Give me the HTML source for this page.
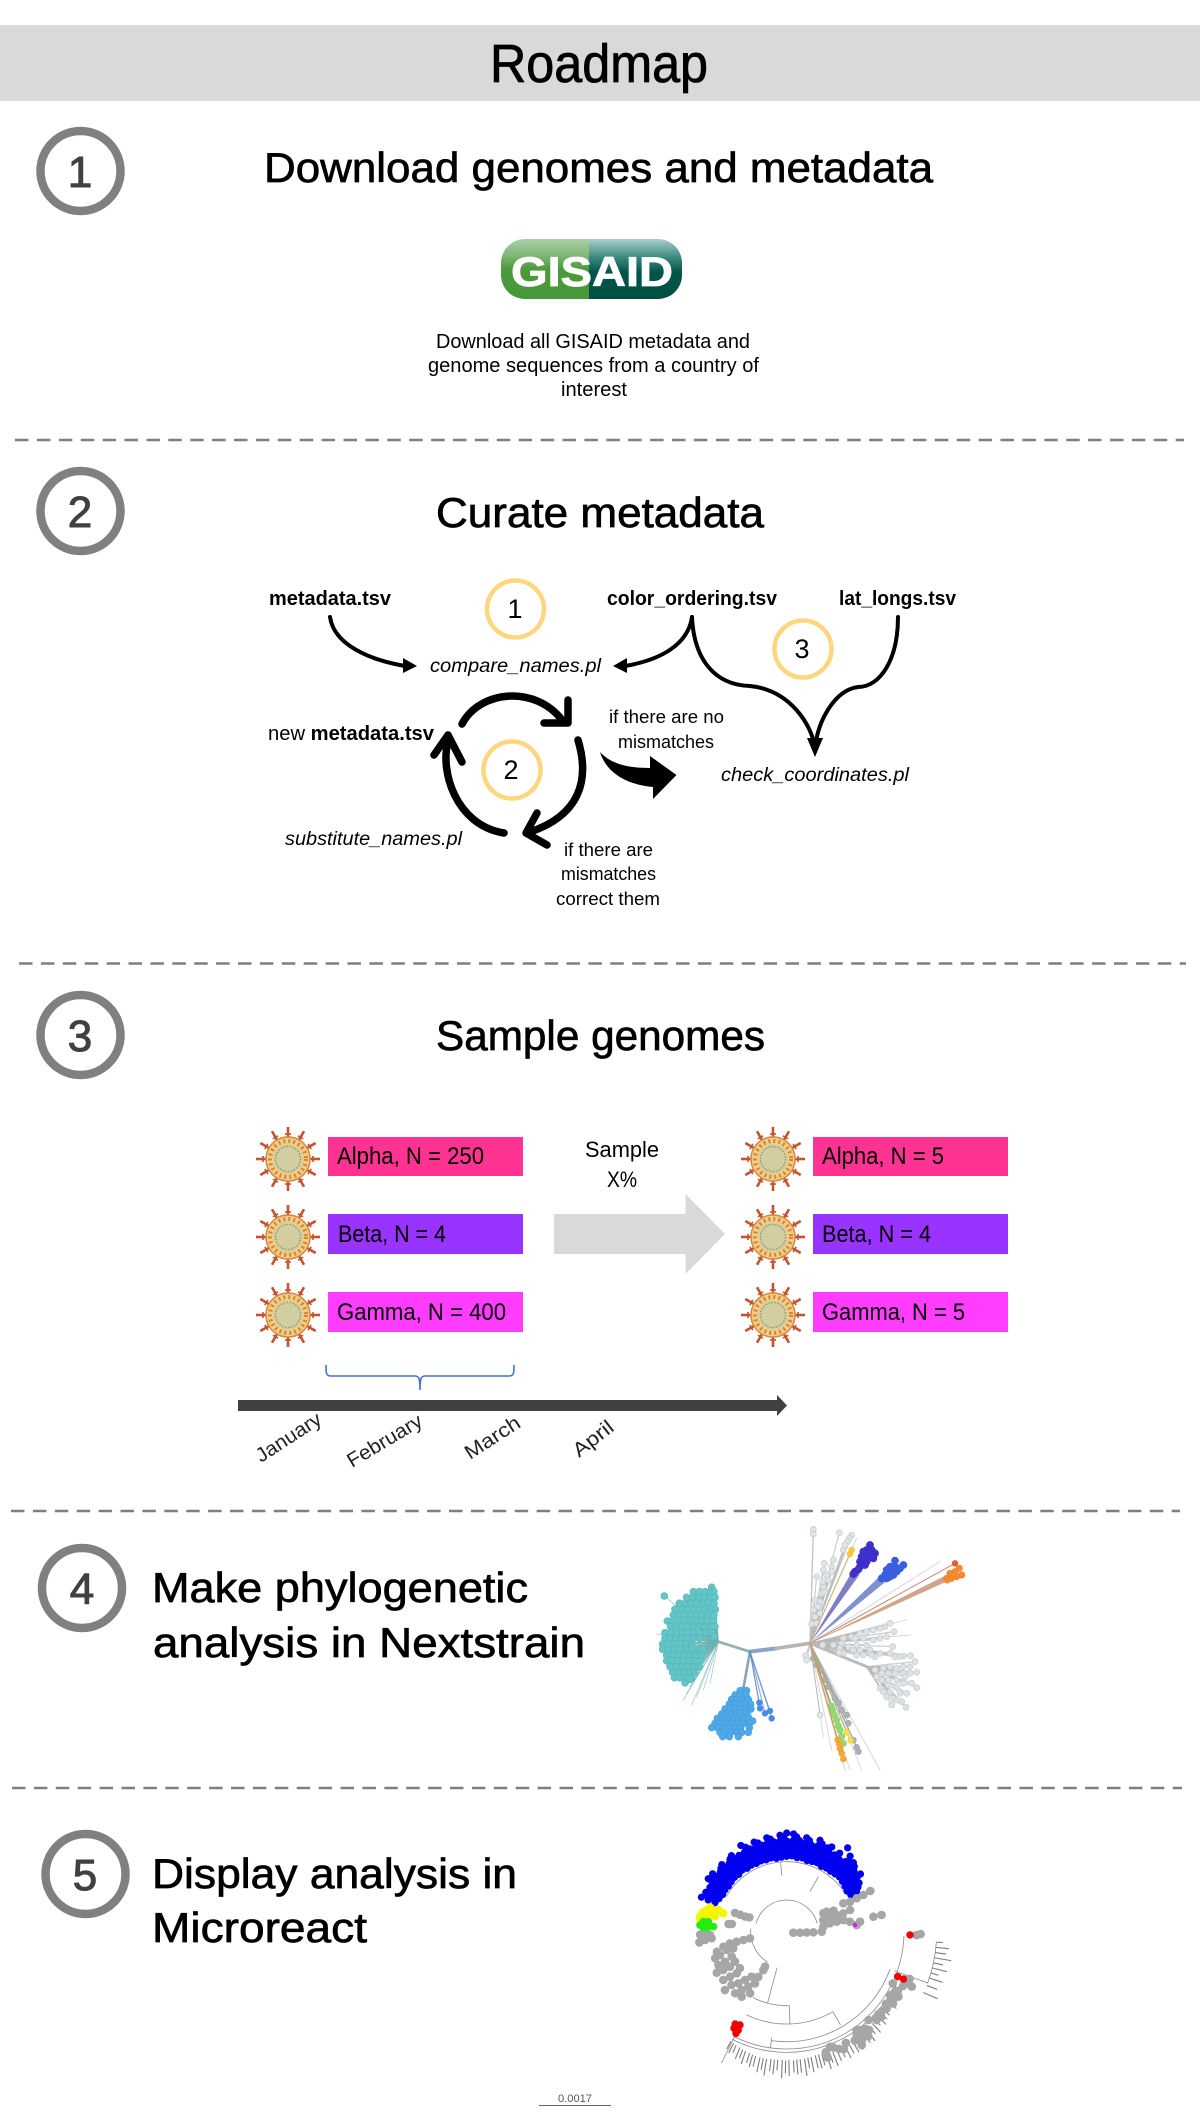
<!DOCTYPE html>
<html lang="en">
<head>
<meta charset="utf-8">
<title>Roadmap</title>
<style>
html,body{margin:0;padding:0;background:#fff;}
svg{display:block;}
text{font-family:"Liberation Sans",sans-serif;}
.h{font-size:42px;fill:#000;stroke:#000;stroke-width:.7px;}
.dash{stroke:#7f7f7f;stroke-width:2.6;stroke-dasharray:13.5 8.4;fill:none;}
.ring{fill:#fff;stroke:#808080;stroke-width:8.5;}
.dig{font-size:44px;fill:#404040;stroke:#404040;stroke-width:1;text-anchor:middle;}
.gold{fill:#fff;stroke:#ffd680;stroke-width:4.5;}
.gn{font-size:27px;fill:#000;text-anchor:middle;}
.b{font-size:20px;font-weight:bold;fill:#000;}
.i{font-size:19px;font-style:italic;fill:#000;}
.t{font-size:18px;fill:#000;}
.bx{font-size:24px;fill:#000;}
.mo{font-size:20px;fill:#222;}
.arr{fill:none;stroke:#000;stroke-width:4;stroke-linecap:round;}
.cyc{fill:none;stroke:#000;stroke-width:7.5;stroke-linecap:round;stroke-linejoin:round;}
</style>
</head>
<body>
<svg xmlns="http://www.w3.org/2000/svg" width="1200" height="2128" viewBox="0 0 1200 2128">
<defs>
<linearGradient id="gl" x1="0" y1="0" x2="0" y2="1"><stop offset="0" stop-color="#a9cfa6"/><stop offset=".28" stop-color="#7fb676"/><stop offset=".5" stop-color="#4b9b3c"/><stop offset="1" stop-color="#469838"/></linearGradient>
<linearGradient id="gr" x1="0" y1="0" x2="0" y2="1"><stop offset="0" stop-color="#a8cfcf"/><stop offset=".3" stop-color="#3f8a80"/><stop offset=".55" stop-color="#04544a"/><stop offset="1" stop-color="#004f45"/></linearGradient>
<clipPath id="logoclip"><rect x="501" y="239" width="181" height="60" rx="24"/></clipPath>
<g id="spike"><line x1="0" y1="-19" x2="0" y2="-32" stroke="#c4532f" stroke-width="2.6"/><line x1="-3" y1="-25" x2="3" y2="-25" stroke="#c4532f" stroke-width="1.6"/></g>
<g id="virus">
<use href="#spike"/><use href="#spike" transform="rotate(30)"/><use href="#spike" transform="rotate(60)"/><use href="#spike" transform="rotate(90)"/><use href="#spike" transform="rotate(120)"/><use href="#spike" transform="rotate(150)"/><use href="#spike" transform="rotate(180)"/><use href="#spike" transform="rotate(210)"/><use href="#spike" transform="rotate(240)"/><use href="#spike" transform="rotate(270)"/><use href="#spike" transform="rotate(300)"/><use href="#spike" transform="rotate(330)"/>
<circle r="22" fill="#f2cd84" stroke="#d08a4a" stroke-width="1.5"/>
<circle r="18" fill="none" stroke="#d8823a" stroke-width="4" stroke-dasharray="2 3"/>
<circle r="15" fill="#d2cea0"/>
<circle r="12.5" fill="none" stroke="#8b8f72" stroke-width="1.2" stroke-dasharray="1.5 1.5"/>
</g>
</defs>

<rect width="1200" height="2128" fill="#fff"/>

<g>
<rect x="0" y="25" width="1200" height="76" fill="#d9d9d9"/>
<text x="490" y="82" font-size="54" textLength="218" lengthAdjust="spacingAndGlyphs" fill="#000" stroke="#000" stroke-width=".8">Roadmap</text>
</g>

<g>
<circle class="ring" cx="80.5" cy="171" r="40"/>
<text class="dig" x="80" y="187">1</text>
<text class="h" x="264" y="182" textLength="669" lengthAdjust="spacingAndGlyphs">Download genomes and metadata</text>
<g clip-path="url(#logoclip)">
<rect x="501" y="239" width="88" height="60" fill="url(#gl)"/>
<rect x="589" y="239" width="93" height="60" fill="url(#gr)"/>
</g>
<text x="511" y="286" font-size="42" font-weight="bold" fill="#fff" stroke="#fff" stroke-width=".8" textLength="162" lengthAdjust="spacingAndGlyphs">GISAID</text>
<text class="t" x="436" y="348" style="font-size:20px" textLength="314" lengthAdjust="spacingAndGlyphs">Download all GISAID metadata and</text>
<text class="t" x="428" y="372" style="font-size:20px" textLength="331" lengthAdjust="spacingAndGlyphs">genome sequences from a country of</text>
<text class="t" x="561" y="396" style="font-size:20px" textLength="66" lengthAdjust="spacingAndGlyphs">interest</text>
</g>
<line class="dash" x1="15" y1="440" x2="1184" y2="440"/>

<g>
<circle class="ring" cx="80.5" cy="511" r="40"/>
<text class="dig" x="80" y="527">2</text>
<text class="h" x="436" y="527" textLength="328" lengthAdjust="spacingAndGlyphs">Curate metadata</text>

<text class="b" x="269" y="605" textLength="122" lengthAdjust="spacingAndGlyphs">metadata.tsv</text>
<text class="b" x="607" y="605" textLength="170" lengthAdjust="spacingAndGlyphs">color_ordering.tsv</text>
<text class="b" x="839" y="605" textLength="117" lengthAdjust="spacingAndGlyphs">lat_longs.tsv</text>
<circle class="gold" cx="515.5" cy="609" r="28.5"/>
<text class="gn" x="515" y="618">1</text>
<circle class="gold" cx="803" cy="649" r="28.5"/>
<text class="gn" x="802" y="658">3</text>
<circle class="gold" cx="512" cy="770" r="28.5"/>
<text class="gn" x="511" y="779">2</text>

<text class="i" x="430" y="672" textLength="171" lengthAdjust="spacingAndGlyphs">compare_names.pl</text>
<text class="i" x="721" y="781" textLength="188" lengthAdjust="spacingAndGlyphs">check_coordinates.pl</text>
<text class="i" x="285" y="845" textLength="177" lengthAdjust="spacingAndGlyphs">substitute_names.pl</text>
<text x="268" y="740" font-size="20" fill="#000" textLength="166" lengthAdjust="spacingAndGlyphs">new <tspan font-weight="bold">metadata.tsv</tspan></text>
<text class="t" x="609" y="723" textLength="115" lengthAdjust="spacingAndGlyphs">if there are no</text>
<text class="t" x="618" y="748" textLength="96" lengthAdjust="spacingAndGlyphs">mismatches</text>
<text class="t" x="564" y="856" textLength="89" lengthAdjust="spacingAndGlyphs">if there are</text>
<text class="t" x="561" y="880" textLength="95" lengthAdjust="spacingAndGlyphs">mismatches</text>
<text class="t" x="556" y="905" textLength="104" lengthAdjust="spacingAndGlyphs">correct them</text>

<path class="arr" d="M330 617C334 645 370 660 405 666"/>
<polygon points="417,666 403,658 403,673"/>
<path class="arr" d="M692 617C688 645 660 660 625 666"/>
<polygon points="613,666 627,658 627,673"/>
<path class="arr" d="M692 617C694 660 715 685 750 686C790 690 812 725 815 748"/>
<path class="arr" d="M898 617C898 660 880 687 858 687C835 690 818 720 815 748"/>
<polygon points="815,757 807,738 823,738"/>
<path class="cyc" d="M462 724C480 690 535 685 562 720"/>
<polyline class="cyc" points="568,700 568,723 544,723"/>
<path class="cyc" d="M578 740C590 780 580 815 530 832"/>
<polyline class="cyc" points="537,813 526,833 547,845"/>
<path class="cyc" d="M504 833C455 825 440 770 448 742"/>
<polyline class="cyc" points="434,755 448,735 462,762"/>
<path d="M600 752C607 775 630 785 653 787L653 799L676.5 775L650 756L650 768C630 768 612 765 600 752Z"/>
</g>
<line class="dash" x1="19" y1="963.5" x2="1186" y2="963.5"/>

<g>
<circle class="ring" cx="80.5" cy="1035" r="40"/>
<text class="dig" x="80" y="1051">3</text>
<text class="h" x="436" y="1050" textLength="329" lengthAdjust="spacingAndGlyphs">Sample genomes</text>

<use href="#virus" x="288" y="1159"/>
<use href="#virus" x="288" y="1237"/>
<use href="#virus" x="288" y="1315"/>
<use href="#virus" x="773" y="1159"/>
<use href="#virus" x="773" y="1237"/>
<use href="#virus" x="773" y="1315"/>

<rect x="328" y="1137" width="195" height="39" fill="#ff3391"/>
<rect x="328" y="1214" width="195" height="40" fill="#9933ff"/>
<rect x="328" y="1292" width="195" height="40" fill="#ff3dff"/>
<rect x="813" y="1137" width="195" height="39" fill="#ff3391"/>
<rect x="813" y="1214" width="195" height="40" fill="#9933ff"/>
<rect x="813" y="1292" width="195" height="40" fill="#ff3dff"/>
<text class="bx" x="337" y="1164" textLength="147" lengthAdjust="spacingAndGlyphs">Alpha, N = 250</text>
<text class="bx" x="338" y="1242" textLength="108" lengthAdjust="spacingAndGlyphs">Beta, N = 4</text>
<text class="bx" x="337" y="1320" textLength="169" lengthAdjust="spacingAndGlyphs">Gamma, N = 400</text>
<text class="bx" x="822" y="1164" textLength="122" lengthAdjust="spacingAndGlyphs">Alpha, N = 5</text>
<text class="bx" x="822" y="1242" textLength="109" lengthAdjust="spacingAndGlyphs">Beta, N = 4</text>
<text class="bx" x="822" y="1320" textLength="143" lengthAdjust="spacingAndGlyphs">Gamma, N = 5</text>

<text x="585" y="1157" font-size="22" fill="#000" textLength="74" lengthAdjust="spacingAndGlyphs">Sample</text>
<text x="607" y="1187" font-size="22" fill="#000" textLength="30" lengthAdjust="spacingAndGlyphs">X%</text>
<polygon points="554,1214 685.5,1214 685.5,1194 725,1234 685.5,1274 685.5,1254 554,1254" fill="#d9d9d9"/>

<path d="M326 1365C326 1373 326 1376 331 1376L415 1376C419 1376 420 1378 420 1390C420 1378 421 1376 425 1376L509 1376C514 1376 514 1373 514 1365" fill="none" stroke="#4472c4" stroke-width="1.6"/>
<polygon points="238,1400 777,1400 777,1395 787,1405.5 777,1416 777,1411 238,1411" fill="#404040"/>
<text class="mo" transform="translate(261,1463) rotate(-33)" textLength="74" lengthAdjust="spacingAndGlyphs">January</text>
<text class="mo" transform="translate(352,1468) rotate(-31)" textLength="84" lengthAdjust="spacingAndGlyphs">February</text>
<text class="mo" transform="translate(470,1460) rotate(-33)" textLength="62" lengthAdjust="spacingAndGlyphs">March</text>
<text class="mo" transform="translate(579,1458) rotate(-38)" textLength="46" lengthAdjust="spacingAndGlyphs">April</text>
</g>
<line class="dash" x1="11" y1="1511" x2="1180" y2="1511"/>

<g>
<circle class="ring" cx="82" cy="1588" r="40"/>
<text class="dig" x="82" y="1604">4</text>
<text class="h" x="152" y="1602" textLength="376" lengthAdjust="spacingAndGlyphs">Make phylogenetic</text>
<text class="h" x="153" y="1657" textLength="432" lengthAdjust="spacingAndGlyphs">analysis in Nextstrain</text>
</g>
<g id="nextstrain-tree"></g>
<line class="dash" x1="12" y1="1788" x2="1182" y2="1788"/>

<g>
<circle class="ring" cx="85.5" cy="1874" r="40"/>
<text class="dig" x="85" y="1890">5</text>
<text class="h" x="152" y="1888" textLength="365" lengthAdjust="spacingAndGlyphs">Display analysis in</text>
<text class="h" x="152" y="1942" textLength="215" lengthAdjust="spacingAndGlyphs">Microreact</text>
</g>
<g id="microreact-tree"></g>
<text x="558" y="2102" font-size="11" fill="#555" textLength="34" lengthAdjust="spacingAndGlyphs">0.0017</text>
<line x1="539" y1="2105.5" x2="611" y2="2105.5" stroke="#666" stroke-width="1"/>
</svg>

<script>
/* Nextstrain tree: tip positions in the tree's own layout units */
const tealTips=[[215,232],[160,245],[178,245],[195,245],[212,245],[222,245],[73,258],[140,262],[158,262],[175,262],[192,262],[210,262],[225,262],[118,280],[135,280],[152,280],[170,280],[188,280],[205,280],[222,280],[105,298],[125,298],[142,298],[160,298],[178,298],[195,298],[212,298],[226,298],[100,315],[118,315],[135,315],[152,315],[170,315],[188,315],[205,315],[222,315],[82,333],[98,333],[115,333],[132,333],[150,333],[168,333],[185,333],[202,333],[220,333],[92,350],[108,350],[125,350],[142,350],[160,350],[178,350],[195,350],[212,350],[225,350],[75,368],[92,368],[110,368],[128,368],[145,368],[162,368],[180,368],[198,368],[215,368],[75,385],[90,385],[108,385],[125,385],[142,385],[160,385],[178,385],[222,381],[68,402],[85,402],[102,402],[120,402],[138,402],[155,402],[68,418],[85,418],[102,418],[120,418],[138,418],[158,418],[178,418],[190,418],[80,436],[98,436],[115,436],[132,436],[150,436],[168,436],[185,436],[80,452],[95,452],[112,452],[130,452],[148,452],[165,452],[182,452],[90,470],[108,470],[125,470],[142,470],[160,470],[178,470],[98,487],[115,487],[132,487],[150,487],[165,487],[103,503],[120,503],[138,503],[155,503],[135,518],[150,508]];
const blueTips=[[300,542],[320,542],[285,555],[300,555],[318,555],[275,568],[290,568],[305,568],[325,568],[268,582],[282,582],[298,582],[315,582],[332,582],[255,597],[270,597],[285,597],[300,597],[318,597],[333,597],[245,612],[260,612],[275,612],[290,612],[305,612],[320,612],[232,625],[248,625],[265,625],[280,625],[295,625],[312,625],[325,625],[338,633],[225,640],[240,640],[258,640],[275,640],[292,640],[310,640],[328,640],[215,653],[232,653],[250,653],[268,653],[285,653],[302,653],[328,653],[240,667],[255,667],[272,667],[290,667],[305,667],[325,667],[248,680],[268,680],[295,680]];
const brightBlueTips=[[358,578],[360,595],[375,610],[390,603],[395,625]];
const northGreyTips=[[520,58],[520,72],[598,68],[635,75],[628,85],[622,95],[615,105],[610,120],[553,160],[580,150],[575,170],[550,180],[560,195],[575,185],[530,200],[565,210],[550,230],[545,250],[555,245],[525,270],[540,275],[520,300],[540,310],[525,320],[515,342],[530,340],[535,290],[548,215]];
const eastGreyTips=[[750,340],[735,350],[720,355],[700,360],[680,365],[660,370],[635,380],[610,385],[762,365],[740,380],[720,385],[700,390],[670,385],[645,385],[605,400],[580,405],[548,405],[600,415],[625,410],[650,405],[680,405],[610,430],[598,428],[640,420],[660,420],[690,420],[720,430],[705,440],[750,430],[758,410],[765,440],[790,438],[812,437],[780,440],[650,435],[670,435],[695,435]];
const southEastGreyTips=[[825,455],[810,470],[790,470],[770,475],[750,470],[730,475],[705,480],[830,487],[810,490],[790,490],[765,490],[745,490],[725,490],[710,500],[725,510],[745,510],[770,510],[795,500],[815,520],[830,533],[790,520],[745,525],[720,535],[770,530],[800,550],[730,545],[750,545],[780,550],[740,560],[760,565],[755,585],[785,575],[798,592],[770,570]];
const purpleTips=[[690,105],[680,120],[695,120],[670,125],[705,130],[665,140],[685,140],[700,145],[660,155],[680,155],[660,170],[675,165],[645,185],[655,178],[640,192],[690,128]];
const royalBlueTips=[[765,152],[790,165],[780,175],[750,170],[765,170],[740,180],[755,185],[770,185],[735,195],[750,200],[725,205],[740,205],[760,195]];
const orangeTips=[[958,175],[945,185],[930,190],[965,195],[950,200],[935,205],[920,205],[922,210]];
const redOrangeTips=[[945,160]];
const goldTopTips=[[635,120],[630,132]];
const slateTips=[[520,445],[530,465],[540,480],[555,510],[565,530],[585,565],[595,578],[605,600],[620,615],[625,640],[640,690],[650,712],[655,725]];
const paleGreyTips=[[497,437],[500,450],[540,615]];
const greenTips=[[573,588],[578,600],[583,615],[590,630],[595,648],[600,660],[605,680],[610,700]];
const yellowTips=[[620,667],[632,691]];
const amberTips=[[593,690],[598,703],[600,716],[605,730],[610,747]];
const tealHairEnds=[[50,372],[60,400],[130,570],[155,585],[140,550],[170,560],[150,530],[190,540],[210,520],[120,480],[160,500]];
const rootHairEnds=[[720,780],[665,780],[630,780],[615,780],[575,720],[550,680],[800,330],[810,375],[900,155],[650,85]];
const nodeRoot=[510,400];
const nodeTealHub=[235,395];
const nodeJunction=[330,425];
const nodeColorBreak=[410,415];
const nodeBlueHub=[312,525];
const nodeSouthEastHub=[680,470];

/* Microreact tree: polar tip positions [angle in degrees, radial distance] */
const blueBandAngles=[30,34,38,42,46,50,54,58,62,66,70,74,78,82,86,90,94,98,102,106,110,114,118,122,126,130,134,138,142,146,150,154,158];
const blueBandRadii=[[222,242],[218,240,262],[222,245,270,281],[225,248,272],[228,250,270,288],[226,248,275,296],[224,246,268,311],[225,250,272],[222,245,270,288],[226,248,272],[224,250,274,292],[222,246,270],[226,248,272,288],[224,250,276],[228,252,274,294],[226,248,272,296],[224,250,274,290],[222,246,272],[226,250,274,288],[224,248,270],[226,250,272,286],[224,248,272],[226,250,270,293],[224,246,270],[228,250,272,282],[224,248,268],[226,248,270,280],[224,246,268],[222,246,270,282],[224,248,272,284],[222,244,266],[226,248,270],[232,254,276]];
const blueBandAnglesB=[32,36,40,44,48,52,56,60,64,68,72,76,80,84,88,92,96,100,104,108,112,116,120,124,128,132,136,140,144,148,152,156];
const blueBandRadiiB=[[232,252],[234,258],[234,258],[236,260,282],[238,260,280],[236,260],[236,258,284],[238,262],[236,260,280],[238,262,284],[236,262],[236,260,282],[238,262],[238,262,286],[240,264],[238,262,284],[236,262],[238,262,282],[236,260],[238,262,280],[236,260],[238,262,282],[236,260],[238,260],[236,260,276],[236,258],[236,258,274],[234,258],[234,258,276],[234,258],[234,258],[238,260]];
const yellowClade=[[170,264],[165,249],[162.4,241],[162.4,215],[163.9,198],[168,220],[169,239],[172,262],[166,232],[167,258],[164,228],[171,248]];
const greenClade=[[175.6,261],[175.3,246],[176,230],[176,220],[173,252],[172.7,237],[177,252],[177,238]];
const greyClades=[[182,260],[181,245],[182.5,230],[187,264],[185.8,246],[185,226],[160,165],[160,149],[160,133],[159,120],[172.5,176],[172,166],[351.5,20],[355.7,40],[358,60],[358.6,80],[0,105],[7.8,111],[10.9,132],[17.6,115],[19,137],[18.4,158],[18,178],[11.3,153],[18.9,201],[11.6,174],[9,192],[26.6,134],[24.2,154],[5.4,211],[7.8,222],[26.6,123],[9.8,264],[10,289],[26,279],[25.6,255],[25.5,233],[25.3,210],[26.6,190],[190.3,112],[190.9,132],[191.3,153],[191.6,174],[193.3,195],[196,218],[200.4,229],[199.3,212],[197,188],[197.4,168],[206,228],[206,206],[204.4,181],[210.4,243],[211,222],[211.7,200],[210,179],[217.3,239],[218.5,217],[219.8,195],[218,178],[223.4,255],[224,230],[226.9,212],[229.2,191],[230,241],[232.4,221],[235,201],[235.3,237],[239.3,215],[238.5,182],[237.8,160],[238.7,135],[232,171],[238.2,123],[358.5,390],[359,402],[334,354],[290.6,369],[306.7,368],[307.2,389],[303.5,408],[312.8,361],[328.5,364],[329.8,388],[326,385],[322.5,378],[337,397],[336.3,410],[305.4,362],[315.5,378],[288,397],[310,385],[318,370],[324,368],[332,378],[304,375],[306,380],[309,375],[305,395],[302,385],[308,398],[292,375],[294,385],[288,380],[296,392],[298,378],[327,372],[325,376],[331,372],[329,380],[320,372],[316,372],[318,382],[335,385],[338,385],[339,395]];
const redClade=[[240.8,317],[243.4,313],[243.5,341],[241.4,330],[243.8,329],[338,359],[337.9,378],[358.5,370]];
const magentaClade=[[5.6,206]];
const treeArcs=[[15,165,95],[175,238,108],[35,150,210],[244,300,277],[262,340,330],[243,358,352],[243,337,362],[243,272,222],[340,356,450]];
const treeSpokes=[[95,170,210],[60,140,190],[255,113,222],[272,222,277],[300,277,322],[243.6,340,439],[262,322,352],[340,345,450]];
const hairAngles=[243,244.5,246,248,249.5,251,253,254.5,256,258,259.5,261,263,264.5,266,268,269.5,271,273,274.5,276,278,279.5,281,283,284.5,286,288,289.5,291,293,295,297,299,301,303,305,307,309,311,313,315,317,319,321,323,325,327,329,331,333,336,339,342,344,346,348,350,352,354,356];
const hairBases=[370,372,374,376,378,380,382,384,386,386,388,388,386,388,386,386,388,386,388,386,386,386,384,384,382,382,384,386,388,388,386,384,388,390,388,392,388,386,380,378,376,374,372,370,366,364,362,362,360,360,360,450,452,452,452,452,452,452,452,452,452];
const hairLengths=[24,30,22,34,26,38,28,36,30,44,32,48,34,40,30,52,36,46,34,42,38,50,30,44,36,40,32,46,28,42,34,30,36,26,32,28,24,30,40,26,36,22,34,28,30,24,38,30,26,34,22,44,30,38,20,42,26,48,30,36,16];

const SVGNS='http://www.w3.org/2000/svg';
const tree4=document.getElementById('nextstrain-tree');
const tree5=document.getElementById('microreact-tree');
const layoutX=v=>640+v/3;
const layoutY=v=>1510+v/3;
const polarX=(a,r)=>786.7+(r/3)*Math.cos(a*Math.PI/180);
const polarY=(a,r)=>1931.7-(r/3)*Math.sin(a*Math.PI/180);

function edge(parent,x1,y1,x2,y2,color,width,opacity){
  const el=document.createElementNS(SVGNS,'line');
  el.setAttribute('x1',x1);el.setAttribute('y1',y1);el.setAttribute('x2',x2);el.setAttribute('y2',y2);
  el.setAttribute('stroke',color);el.setAttribute('stroke-width',width);el.setAttribute('stroke-opacity',opacity);
  el.setAttribute('stroke-linecap','round');
  
  
  parent.appendChild(el);
}
function tipDot(parent,x,y,r,fill,stroke){
  const el=document.createElementNS(SVGNS,'circle');
  el.setAttribute('cx',x);el.setAttribute('cy',y);el.setAttribute('r',r);el.setAttribute('fill',fill);
  if(stroke){el.setAttribute('stroke',stroke);el.setAttribute('stroke-width',.6);}
  
  
  parent.appendChild(el);
}
function wedge(hub,end,halfWidth,color){
  const x1=layoutX(hub[0]),y1=layoutY(hub[1]),x2=layoutX(end[0]),y2=layoutY(end[1]);
  const dx=x2-x1,dy=y2-y1,len=Math.hypot(dx,dy),nx=-dy/len*halfWidth,ny=dx/len*halfWidth;
  const el=document.createElementNS(SVGNS,'polygon');
  el.setAttribute('points',`${x1},${y1} ${x2+nx},${y2+ny} ${x2-nx},${y2-ny}`);
  el.setAttribute('fill',color);
  
  
  tree4.appendChild(el);
}
function clade(hub,tips,edgeColor,fill,stroke,tipRadius,edgeWidth){
  tips.forEach(t=>edge(tree4,layoutX(hub[0]),layoutY(hub[1]),layoutX(t[0]),layoutY(t[1]),edgeColor,edgeWidth,.75));
  tips.forEach(t=>tipDot(tree4,layoutX(t[0]),layoutY(t[1]),tipRadius,fill,stroke));
}
function trunk(a,b,color,width){
  edge(tree4,layoutX(a[0]),layoutY(a[1]),layoutX(b[0]),layoutY(b[1]),color,width,1);
}
tealHairEnds.forEach(t=>edge(tree4,layoutX(nodeTealHub[0]),layoutY(nodeTealHub[1]),layoutX(t[0]),layoutY(t[1]),'#8fc2c2',.8,.8));
rootHairEnds.forEach(t=>edge(tree4,layoutX(nodeRoot[0]),layoutY(nodeRoot[1]),layoutX(t[0]),layoutY(t[1]),'#c8cccc',.9,.8));
trunk(nodeTealHub,nodeJunction,'#8fb3b0',2.8);
trunk(nodeJunction,nodeColorBreak,'#8ea3c8',4);
trunk(nodeColorBreak,nodeRoot,'#b6b6b6',3.6);
trunk(nodeJunction,nodeBlueHub,'#84a6c0',2.6);
trunk(nodeRoot,nodeSouthEastHub,'#bcbcbc',3);
wedge(nodeRoot,[650,185],4,'#7f7fc4');
wedge(nodeRoot,[730,205],4,'#7e92d0');
wedge(nodeRoot,[920,205],3,'#d0a58a');
edge(tree4,layoutX(nodeRoot[0]),layoutY(nodeRoot[1]),layoutX(945),layoutY(160),'#c8786c',.9,1);
clade(nodeTealHub,tealTips,'#6fb2b2','#62c5c7','#58b4b4',3.5,.8);
clade(nodeBlueHub,blueTips,'#6aa6d8','#4fa8e8','#479bd8',3.4,.8);
clade(nodeJunction,brightBlueTips,'#5e86c8','#4a8ae8','#4a8ae8',2.9,1);
clade(nodeRoot,northGreyTips,'#b8bcbc','#dfe4e7','#c0c6ca',3,1.2);
clade(nodeRoot,eastGreyTips,'#b8b8b8','#dde2e5','#c0c6ca',3,1.2);
clade(nodeSouthEastHub,southEastGreyTips,'#b8b8b8','#dde2e5','#c0c6ca',3,1.2);
clade(nodeRoot,slateTips,'#a0a4a8','#a9b2ba','#9aa2aa',3,1.2);
clade(nodeRoot,paleGreyTips,'#b0b0b0','#e0e5e8','#c0c6ca',3,1);
clade(nodeRoot,goldTopTips,'#c8b078','#f8c840','#f0c030',2.9,1);
clade(nodeRoot,greenTips,'#b0a070','#90dc72','#84d068',3.2,1);
clade(nodeRoot,yellowTips,'#c0b080','#f8e040','#f0d030',2.9,1);
clade(nodeRoot,amberTips,'#d0a060','#f6a932','#f0a030',3,1);
purpleTips.forEach(t=>tipDot(tree4,layoutX(t[0]),layoutY(t[1]),3.6,'#4030d0','#3a2cc0'));
royalBlueTips.forEach(t=>tipDot(tree4,layoutX(t[0]),layoutY(t[1]),3.6,'#3a5ee0','#3a5ee0'));
orangeTips.forEach(t=>tipDot(tree4,layoutX(t[0]),layoutY(t[1]),3.2,'#f58a30','#f08028'));
redOrangeTips.forEach(t=>tipDot(tree4,layoutX(t[0]),layoutY(t[1]),2.9,'#e85c2e','#e85c2e'));

function arcPath(start,end,r){
  const el=document.createElementNS(SVGNS,'path');
  const large=Math.abs(end-start)>180?1:0;
  el.setAttribute('d',`M${polarX(start,r)} ${polarY(start,r)}A${r/3} ${r/3} 0 ${large} 0 ${polarX(end,r)} ${polarY(end,r)}`);
  el.setAttribute('fill','none');
  el.setAttribute('stroke','#8a8a8a');
  el.setAttribute('stroke-width','.8');
  
  
  tree5.appendChild(el);
}
treeArcs.forEach(a=>arcPath(a[0],a[1],a[2]));
treeSpokes.forEach(s=>edge(tree5,polarX(s[0],s[1]),polarY(s[0],s[1]),polarX(s[0],s[2]),polarY(s[0],s[2]),'#8a8a8a',.8,1));
hairAngles.forEach((a,i)=>edge(tree5,polarX(a,hairBases[i]),polarY(a,hairBases[i]),polarX(a,hairBases[i]+hairLengths[i]),polarY(a,hairBases[i]+hairLengths[i]),'#6e6e6e',1.1,.9));
blueBandAngles.forEach((a,i)=>blueBandRadii[i].forEach(r=>tipDot(tree5,polarX(a,r),polarY(a,r),3.6,'#0000ee')));
blueBandAnglesB.forEach((a,i)=>blueBandRadiiB[i].forEach(r=>tipDot(tree5,polarX(a,r),polarY(a,r),3.6,'#0000ee')));
greyClades.forEach(t=>tipDot(tree5,polarX(t[0],t[1]),polarY(t[0],t[1]),4.3,'#a5a7a7'));
yellowClade.forEach(t=>tipDot(tree5,polarX(t[0],t[1]),polarY(t[0],t[1]),4.2,'#f5f500'));
greenClade.forEach(t=>tipDot(tree5,polarX(t[0],t[1]),polarY(t[0],t[1]),3.8,'#22ee11'));
redClade.forEach(t=>tipDot(tree5,polarX(t[0],t[1]),polarY(t[0],t[1]),3.7,'#f00000'));
magentaClade.forEach(t=>tipDot(tree5,polarX(t[0],t[1]),polarY(t[0],t[1]),2.2,'#ee11ee'));
</script>
</body>
</html>
